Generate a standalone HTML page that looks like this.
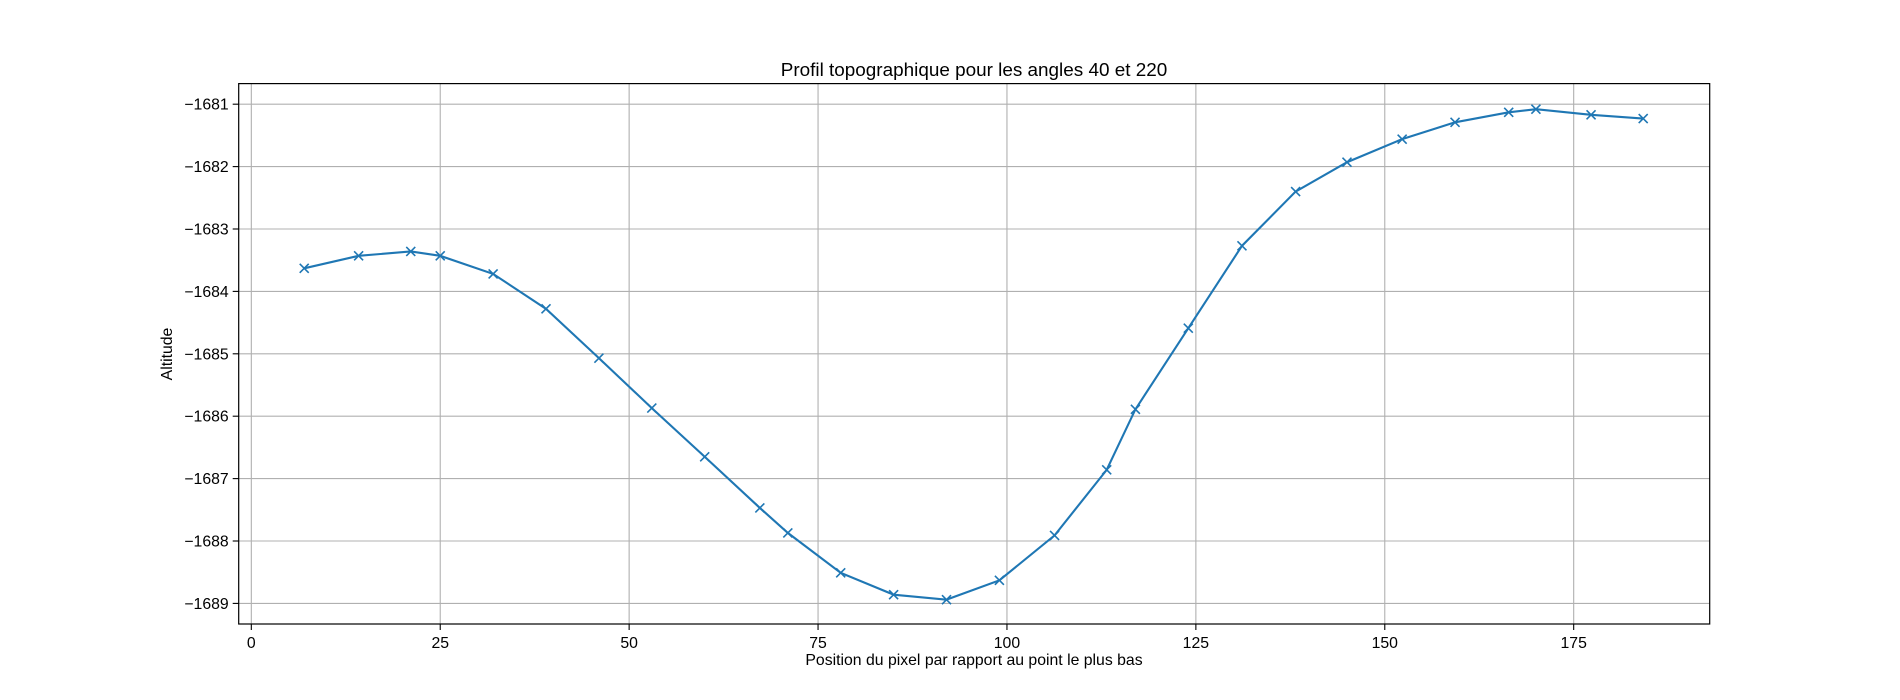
<!DOCTYPE html>
<html><head><meta charset="utf-8"><style>
body{margin:0;background:#fff;}
svg{display:block;font-family:"Liberation Sans","DejaVu Sans",sans-serif;}
</style></head><body>
<svg id="chart" width="1900" height="700">
<rect width="1900" height="700" fill="#fff"/>
<g id="grid"></g>
<g id="ticks"></g>
<g id="series"></g>
<rect x="238.7" y="83.6" width="1471" height="540.4" fill="none" stroke="#000" stroke-width="1.2"/>
<text x="974" y="76" text-anchor="middle" font-size="18.9">Profil topographique pour les angles 40 et 220</text>
<text x="974" y="665" text-anchor="middle" font-size="15.8">Position du pixel par rapport au point le plus bas</text>
<text transform="translate(172,354) rotate(-90)" text-anchor="middle" font-size="15.8">Altitude</text>
</svg>
<script>
const xValues=[7,14.2,21.1,25,32,39,46,53,60,67.3,71,78,85,92,99,106.3,113.2,117,124,131.1,138.2,145,152.3,159.3,166.4,170,177.3,184.2];
const altitudes=[-1683.63,-1683.43,-1683.36,-1683.43,-1683.72,-1684.28,-1685.07,-1685.87,-1686.65,-1687.47,-1687.87,-1688.51,-1688.86,-1688.94,-1688.63,-1687.91,-1686.86,-1685.89,-1684.59,-1683.27,-1682.40,-1681.93,-1681.56,-1681.29,-1681.13,-1681.08,-1681.17,-1681.23];
const xTicks=[0,25,50,75,100,125,150,175];
const yTicks=[-1681,-1682,-1683,-1684,-1685,-1686,-1687,-1688,-1689];
const L=238.7,R=1709.7,T=83.6,B=624;
const xMin=-1.67,xMax=193.0,yMin=-1689.33,yMax=-1680.67;
const sx=v=>L+(v-xMin)/(xMax-xMin)*(R-L);
const sy=v=>B-(v-yMin)/(yMax-yMin)*(B-T);
const NS="http://www.w3.org/2000/svg";
function mk(tag,attrs,parent){const e=document.createElementNS(NS,tag);for(const k in attrs)e.setAttribute(k,attrs[k]);parent.appendChild(e);return e;}
const grid=document.getElementById('grid'),ticks=document.getElementById('ticks'),series=document.getElementById('series');
xTicks.forEach(t=>{const x=sx(t);
 const g=mk('line',{x1:x,x2:x,y1:T,y2:B,stroke:'#b0b0b0','stroke-width':1.1},grid);
 
 
 mk('line',{x1:x,x2:x,y1:B,y2:B+6,stroke:'#000','stroke-width':1.1},ticks);
 const tx=mk('text',{x:x,y:B+24,'text-anchor':'middle','font-size':15.8},ticks);tx.textContent=t;
 
 
});
yTicks.forEach(t=>{const y=sy(t);
 const g=mk('line',{x1:L,x2:R,y1:y,y2:y,stroke:'#b0b0b0','stroke-width':1.1},grid);
 
 
 mk('line',{x1:L-6,x2:L,y1:y,y2:y,stroke:'#000','stroke-width':1.1},ticks);
 const tx=mk('text',{x:L-10,y:y+5.5,'text-anchor':'end','font-size':15.8},ticks);tx.textContent='\u2212'+Math.abs(t);
 
 
});
const pts=xValues.map((x,i)=>sx(x)+','+sy(altitudes[i])).join(' ');
const line=mk('polyline',{points:pts,fill:'none',stroke:'#1f77b4','stroke-width':2.1},series);


xValues.forEach((x,i)=>{const cx=sx(x),cy=sy(altitudes[i]),d=4.5;
 const m=mk('path',{d:`M${cx-d},${cy-d}L${cx+d},${cy+d}M${cx-d},${cy+d}L${cx+d},${cy-d}`,stroke:'#1f77b4','stroke-width':1.6,fill:'none'},series);
 
 
});
</script>
</body></html>
